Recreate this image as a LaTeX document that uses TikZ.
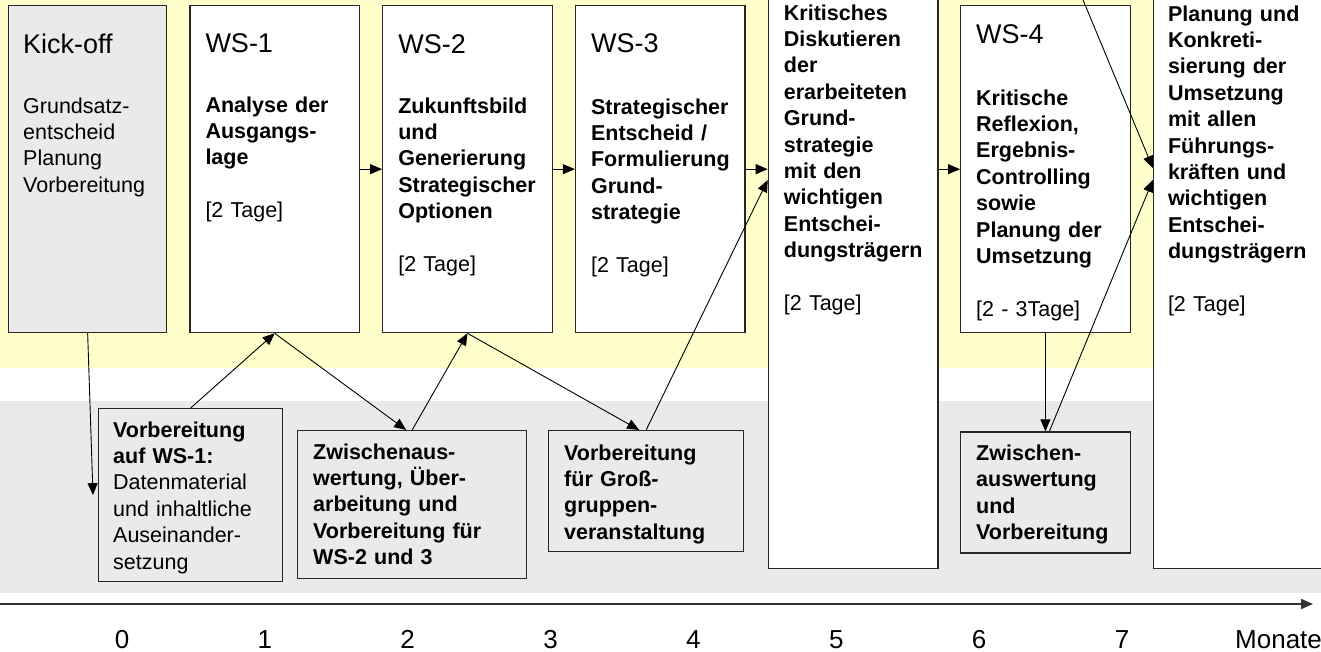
\documentclass[tikz,border=0pt]{standalone}
\usepackage{fontspec}
\setmainfont{Liberation Sans}
\usetikzlibrary{arrows.meta, positioning}

\definecolor{bandyellow}{HTML}{FFFFCC}
\definecolor{bandgray}{HTML}{EAEAEA}

\newcommand{\wshead}[1]{{\fontsize{27}{30}\selectfont #1}}

\begin{document}
\begin{tikzpicture}[
  x=1pt, y=-1pt,
  stage/.style={draw=black!85, line width=1.3pt, fill=white, inner sep=0pt, minimum width=169.5pt, minimum height=327pt},
  kick/.style={stage, fill=bandgray, minimum width=158pt},
  tall/.style={stage, minimum height=588pt},
  prep/.style={draw=black!85, line width=1.3pt, fill=bandgray, inner sep=0pt},
  txt/.style={anchor=base west, inner sep=0pt, text width=180pt, align=left, font=\fontsize{21.5}{26.4}\selectfont},
  line/.style={draw, line width=0.9pt, -{Triangle[length=12pt, width=10pt]}},
  axis/.style={draw=black!80, line width=1.6pt, -{Triangle[length=12pt, width=10pt]}},
  tick/.style={anchor=base, inner sep=0pt, font=\fontsize{26}{30}\selectfont}
]
\useasboundingbox (0,0) rectangle (1321,651);

% Bands
\fill [bandyellow] (0,0) rectangle (1321,368);
\fill [bandgray] (0,401) rectangle (1321,593);

% Top row
\node (kickoff) [kick, anchor=north west] at (8,5) {};
\node (ws1) [stage, right=22pt of kickoff.north east, anchor=north west] {};
\node (ws2) [stage, right=22pt of ws1.north east, anchor=north west] {};
\node (ws3) [stage, right=22pt of ws2.north east, anchor=north west] {};
\node (krit) [tall, right=22pt of ws3.north east, anchor=north west, yshift=25pt] {};
\node (ws4) [stage, right=21.5pt of krit.north east, anchor=north west, yshift=-25pt] {};
\node (rollout) [tall, right=22pt of ws4.north east, anchor=north west, yshift=25pt] {};

% Bottom row
\node (prep1) [prep, anchor=north west, minimum width=184pt, minimum height=173pt] at (98,408) {};
\node (eval1) [prep, anchor=north west, minimum width=229pt, minimum height=148pt] at (297,430) {};
\node (prepgg) [prep, anchor=north west, minimum width=195pt, minimum height=121pt] at (548,430) {};
\node (eval4) [prep, below=98pt of ws4.south west, anchor=north west, minimum width=169.5pt, minimum height=121pt] {};

% Texts top row
\node (kickofftxt) [below right=48pt and 15pt of kickoff.north west, txt]
  {\wshead{Kick-off}\\[33.6pt]Grundsatz-\\entscheid\\Planung\\Vorbereitung};
\node (ws1txt) [below right=47pt and 16pt of ws1.north west, txt]
  {\wshead{WS-1}\\[33.6pt]{\bfseries Analyse der\\Ausgangs-\\lage}\\[26.4pt][2 Tage]};
\node (ws2txt) [below right=48pt and 16pt of ws2.north west, txt]
  {\wshead{WS-2}\\[33.6pt]{\bfseries Zukunftsbild\\und\\Generierung\\Strategischer\\Optionen}\\[26.4pt][2 Tage]};
\node (ws3txt) [below right=47pt and 16pt of ws3.north west, txt]
  {\wshead{WS-3}\\[35.6pt]{\bfseries Strategischer\\Entscheid /\\Formulierung\\Grund-\\strategie}\\[26.4pt][2 Tage]};
\node (krittxt) [below right=40pt and 16pt of krit.north west, txt]
  {{\bfseries Kritisches\\Diskutieren\\der\\erarbeiteten\\Grund-\\strategie\\mit den\\wichtigen\\Entschei-\\dungsträgern}\\[26.4pt][2 Tage]};
\node (ws4txt) [below right=38pt and 16pt of ws4.north west, txt]
  {\wshead{WS-4}\\[35.6pt]{\bfseries Kritische\\Reflexion,\\Ergebnis-\\Controlling\\sowie\\Planung der\\Umsetzung}\\[26.4pt][2 - 3Tage]};
\node (rollouttxt) [below right=41pt and 15pt of rollout.north west, txt]
  {{\bfseries Planung und\\Konkreti-\\sierung der\\Umsetzung\\mit allen\\Führungs-\\kräften und\\wichtigen\\Entschei-\\dungsträgern}\\[26.4pt][2 Tage]};

% Texts bottom row
\node (prep1txt) [below right=29pt and 15pt of prep1.north west, txt]
  {{\bfseries Vorbereitung\\auf WS-1:}\\Datenmaterial\\und inhaltliche\\Auseinander-\\setzung};
\node (eval1txt) [below right=29pt and 16pt of eval1.north west, txt]
  {\bfseries Zwischenaus-\\wertung, Über-\\arbeitung und\\Vorbereitung für\\WS-2 und 3};
\node (prepggtxt) [below right=30pt and 16pt of prepgg.north west, txt]
  {\bfseries Vorbereitung\\für Groß-\\gruppen-\\veranstaltung};
\node (eval4txt) [below right=29pt and 16pt of eval4.north west, txt]
  {\bfseries Zwischen-\\auswertung\\und\\Vorbereitung};

% Connections
\draw [line] (ws1.east) -- (ws2.west);
\draw [line] (ws2.east) -- (ws3.west);
\draw [line] (ws3.east) -- (ws3.east -| krit.west);
\draw [line] (ws4.west -| krit.east) -- (ws4.west);
\draw [line] (kickoff.south) -- ([xshift=-5pt]prep1.west);
\draw [line] (prep1.north) -- (ws1.south);
\draw [line] (ws1.south) -- ([xshift=-6pt]eval1.north);
\draw [line] (eval1.north) -- (ws2.south);
\draw [line] (ws2.south) -- ([xshift=-7pt]prepgg.north);
\draw [line] (prepgg.north) -- ([yshift=-200pt]krit.north west);
\draw [line] (ws4.south) -- (eval4.north);
\draw [line] ([xshift=4pt]eval4.north) -- ([yshift=-200pt]rollout.north west);
\coordinate (fromtop) at (1081,-5);
\draw [line] (fromtop) -- ([yshift=-188pt]rollout.north west);

% Time axis
\coordinate (axstart) at (0,604);
\coordinate (axend) at (1313,604);
\draw [axis] (axstart) -- (axend);
\foreach \m in {0,...,7}
  \node (tick\m) [tick] at ({122+142.86*\m},648) {\m};
\node (unit) [tick, anchor=base west] at (1235,648) {Monate};

\end{tikzpicture}
\end{document}
